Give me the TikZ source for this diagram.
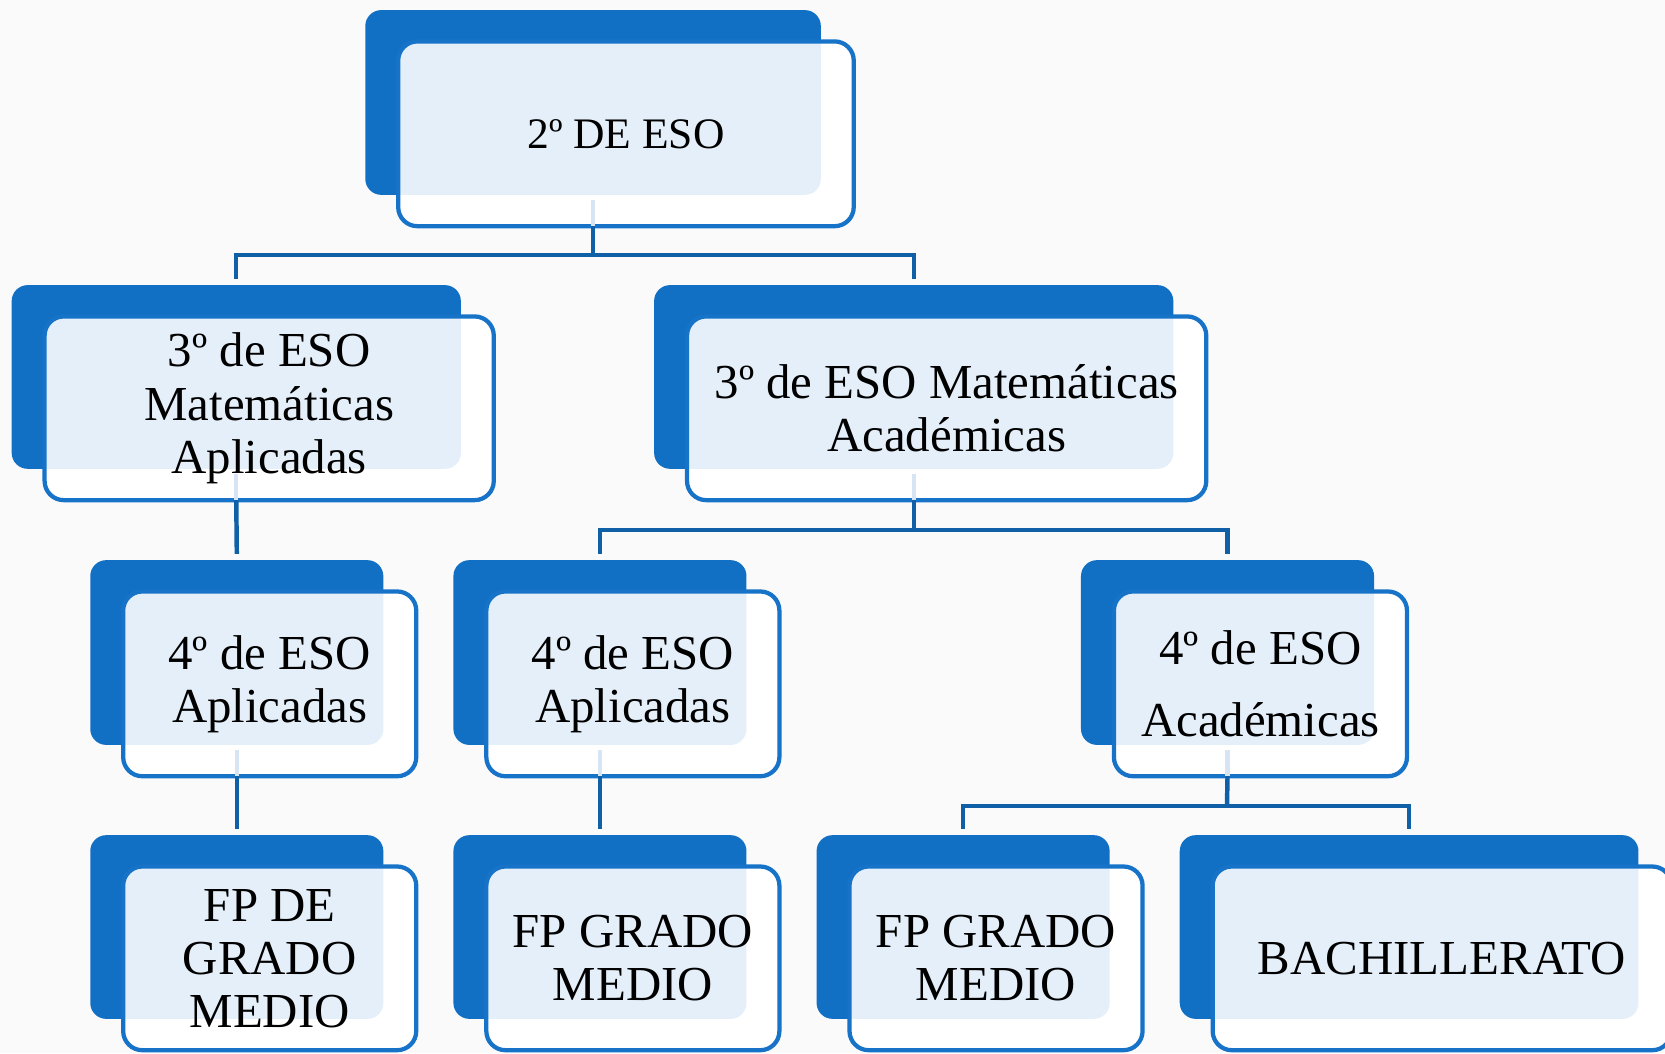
\documentclass[tikz,border=0pt]{standalone}
\usepackage{fontspec}
\setmainfont{Liberation Serif}
\definecolor{dk}{RGB}{17,112,196}
\definecolor{lt}{RGB}{229,239,249}
\definecolor{bdcol}{RGB}{22,115,200}
\definecolor{conncol}{RGB}{16,96,168}
\definecolor{palecol}{RGB}{214,228,243}
\definecolor{bgcol}{RGB}{250,250,251}
\tikzset{
  darkbox/.style={fill=dk, rounded corners=15pt, inner sep=0pt, outer sep=0pt},
  whitebox/.style={fill=white, draw=bdcol, line width=4pt, rounded corners=18pt,
    inner sep=0pt, outer sep=0pt, align=center, text=black,
    font=\fontsize{46}{50}\selectfont,
    path picture={\fill[lt, rounded corners=15pt]
      ([xshift=-20pt,yshift=20pt]path picture bounding box.north west) rectangle
      ([xshift=-31pt,yshift=29.5pt]path picture bounding box.south east);}},
  conn/.style={draw=conncol, line width=4.2pt, line join=miter},
  paleline/.style={draw=palecol, line width=4.2pt},
}
\newcommand\ebox[6]{%
  \node[darkbox, minimum width=#4pt, minimum height=#5pt] (#1d) at (#2-31,#3-29.5) {};
  \node[whitebox, minimum width=#4pt, minimum height=#5pt] (#1) at (#2,#3) {#6};}
\begin{document}
\begin{tikzpicture}[x=1pt,y=-1pt]
\useasboundingbox (0,0) rectangle (1568,991.7);
\fill[bgcol] (0,0) rectangle (1568,991.7);
\clip (0,0) rectangle (1568,991.7);
\ebox{a}{589.5}{126}{429}{174}{\fontsize{41}{50}\selectfont 2º DE ESO}
\ebox{b}{253.5}{384.5}{423}{173}{3º de ESO\\Matemáticas\\Aplicadas}
\ebox{c}{891.5}{384.5}{489}{173}{3º de ESO Matemáticas\\Académicas}
\ebox{e}{254}{644}{276}{174}{4º de ESO\\Aplicadas}
\ebox{f}{596}{644}{276}{174}{4º de ESO\\Aplicadas}
\ebox{g}{1187}{644}{276}{174}{4º de ESO\\[18pt]Académicas}
\ebox{h}{254}{902.5}{276}{173}{FP DE\\GRADO\\MEDIO}
\ebox{i}{596}{902.5}{276}{173}{FP GRADO\\MEDIO}
\ebox{j}{938}{902.5}{276}{173}{FP GRADO\\MEDIO}
\ebox{k}{1358}{902.5}{432}{173}{BACHILLERATO}
% connectors
\coordinate (ja) at (558.5,240);
\coordinate (jc) at (860.5,499);
\coordinate (jg) at (1155.5,759);
\foreach \n in {a,b,c,e,f,g}{
  \draw[paleline] ([yshift=-5pt]\n d.south) -- (\n d.south |- \n.south);
}
\draw[conn] (ad.south |- a.south) -- (ja);
\draw[conn] ([yshift=6pt]bd.north) -- (bd.north |- ja) -- (cd.north |- ja) -- ([yshift=6pt]cd.north);
\draw[conn] (bd.south |- b.south) -- ([yshift=6pt]ed.north);
\draw[conn] (cd.south |- c.south) -- (jc);
\draw[conn] ([yshift=6pt]fd.north) -- (fd.north |- jc) -- (gd.north |- jc) -- ([yshift=6pt]gd.north);
\draw[conn] (ed.south |- e.south) -- ([yshift=6pt]hd.north);
\draw[conn] (fd.south |- f.south) -- ([yshift=6pt]id.north);
\draw[conn] (gd.south |- g.south) -- (jg);
\draw[conn] ([yshift=6pt]jd.north) -- (jd.north |- jg) -- (kd.north |- jg) -- ([yshift=6pt]kd.north);
\end{tikzpicture}
\end{document}
